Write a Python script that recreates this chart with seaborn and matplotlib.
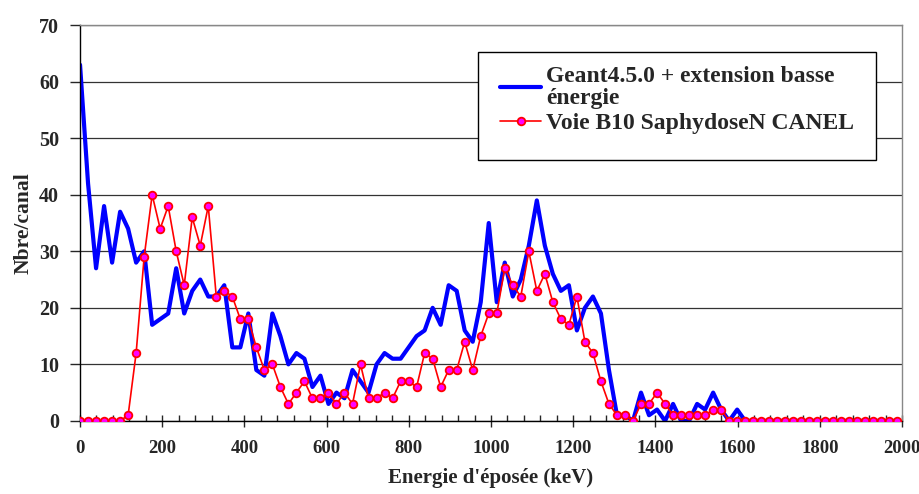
import matplotlib
matplotlib.use("Agg")
import matplotlib.pyplot as plt
import numpy as np
import pandas as pd
import seaborn as sns
from matplotlib.patches import Rectangle
from matplotlib.ticker import MultipleLocator

# Spectre en énergie déposée : simulation Geant4 vs mesure CANEL
channel_width = 19.5  # keV par canal

geant = [63, 42, 27, 38, 28, 37, 34, 28, 30, 17, 18, 19, 27, 19, 23, 25, 22, 22, 24, 13,
         13, 19, 9, 8, 19, 15, 10, 12, 11, 6, 8, 3, 5, 4, 9, 7, 5, 10, 12, 11,
         11, 13, 15, 16, 20, 17, 24, 23, 16, 14, 21, 35, 21, 28, 22, 25, 31, 39, 31, 26,
         23, 24, 16, 20, 22, 19, 9, 1, 1, 0, 5, 1, 2, 0, 3, 0, 0, 3, 2, 5,
         2, 0, 2, 0, 0, 0, 0, 0, 0, 0, 0, 0, 0, 0, 0, 0, 0, 0, 0, 0,
         0, 0, 0]

canel = [0, 0, 0, 0, 0, 0, 1, 12, 29, 40, 34, 38, 30, 24, 36, 31, 38, 22, 23, 22,
         18, 18, 13, 9, 10, 6, 3, 5, 7, 4, 4, 5, 3, 5, 3, 10, 4, 4, 5, 4,
         7, 7, 6, 12, 11, 6, 9, 9, 14, 9, 15, 19, 19, 27, 24, 22, 30, 23, 26, 21,
         18, 17, 22, 14, 12, 7, 3, 1, 1, 0, 3, 3, 5, 3, 1, 1, 1, 1, 1, 2,
         2, 0, 0, 0, 0, 0, 0, 0, 0, 0, 0, 0, 0, 0, 0, 0, 0, 0, 0, 0,
         0, 0, 0]

energy = np.arange(len(geant)) * channel_width
d = pd.DataFrame({"energy": energy, "geant": geant, "canel": canel})

sns.set_style("white")
plt.rcParams["font.family"] = ["Liberation Serif", "DejaVu Serif"]
plt.rcParams["font.weight"] = "bold"

fig = plt.figure(figsize=(9.2, 4.94), dpi=100)
ax = fig.add_axes([0.087, 0.148, 0.8934, 0.801])

sns.lineplot(data=d, x="energy", y="geant", color="#0000FF", lw=3, ax=ax,
             label="Geant4.5.0 + extension basse\nénergie", zorder=2)
sns.lineplot(data=d, x="energy", y="canel", color="#FF0000", lw=1.2, marker="o",
             markersize=5.5, markerfacecolor="#FF00FF", markeredgecolor="#FF0000",
             markeredgewidth=1.3, ax=ax, label="Voie B10 SaphydoseN CANEL", zorder=3)

ax.set_xlim(0, 2000)
ax.set_ylim(0, 70)
ax.xaxis.set_major_locator(MultipleLocator(200))
ax.xaxis.set_minor_locator(MultipleLocator(40))
ax.yaxis.set_major_locator(MultipleLocator(10))

ax.grid(axis="y", color="#333333", lw=0.9)
ax.grid(axis="x", visible=False)
ax.set_axisbelow(True)

for side in ["left", "bottom"]:
    ax.spines[side].set_color("black")
    ax.spines[side].set_linewidth(1)
for side in ["top", "right"]:
    ax.spines[side].set_color("#888888")
    ax.spines[side].set_linewidth(1)

ax.tick_params(axis="x", which="major", bottom=True, direction="inout", length=9,
               width=1, pad=9, labelsize=13.5)
ax.tick_params(axis="x", which="minor", bottom=True, direction="in", length=4, width=1)
ax.tick_params(axis="y", which="major", left=True, direction="out", length=7,
               width=1, pad=8, labelsize=14.5)

ax.set_xlabel("Energie d'éposée (keV)", fontsize=15, fontweight="bold", labelpad=8)
ax.set_ylabel("Nbre/canal", fontsize=15.5, fontweight="bold", labelpad=4)

# cadre de la légende (plus d'espace en bas, comme dans Excel)
box = Rectangle((0.4842, 0.659), 0.4842, 0.2728, transform=ax.transAxes,
                facecolor="white", edgecolor="black", lw=1, zorder=4)
ax.add_patch(box)

leg = ax.legend(loc="upper left", bbox_to_anchor=(0.4995, 0.922), fontsize=17,
                frameon=False, handlelength=1.75, handletextpad=0.2,
                labelspacing=0.15, borderpad=0.4, borderaxespad=0)
leg.set_zorder(5)
for t in leg.get_texts():
    t.set_fontweight("bold")
    t.set_linespacing(1.12)

fig.savefig("out.png", dpi=100)
